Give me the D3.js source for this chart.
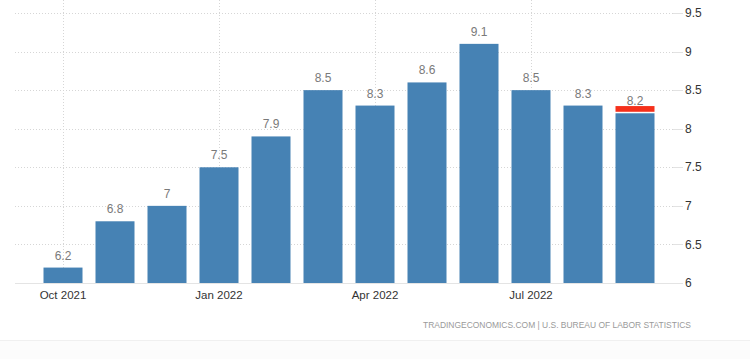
<!DOCTYPE html>
<html><head><meta charset="utf-8">
<script src="https://cdn.jsdelivr.net/npm/d3@7"></script>
<style>
html,body{margin:0;padding:0;background:#fff;}
svg{display:block;font-family:"Liberation Sans",Arial,sans-serif;}
</style></head>
<body><svg id="c" width="750" height="359"></svg>
<script>
const months = ["Oct 2021","Nov 2021","Dec 2021","Jan 2022","Feb 2022","Mar 2022","Apr 2022","May 2022","Jun 2022","Jul 2022","Aug 2022","Sep 2022"];
const values = [6.2,6.8,7,7.5,7.9,8.5,8.3,8.6,9.1,8.5,8.3,8.2];
const forecastValue = 8.3;   // consensus marker on the last bar
const xTickLabels = ["Oct 2021","Jan 2022","Apr 2022","Jul 2022"];
const yTicks = [6,6.5,7,7.5,8,8.5,9,9.5];
const footer = "TRADINGECONOMICS.COM | U.S. BUREAU OF LABOR STATISTICS";

const svg = d3.select("#c");
const x = d3.scaleBand().domain(months).range([37,661]).paddingInner(0.25).paddingOuter(0.125);
const y = d3.scaleLinear().domain([6,9.5]).range([283,13]);
const gridL = 15, gridR = 683;

// horizontal grid
const g = svg.append("g");
yTicks.forEach(t=>{
  if (t>6) {
    g.append("line").attr("x1",gridL).attr("x2",gridR-10).attr("y1",Math.round(y(t))+0.5).attr("y2",Math.round(y(t))+0.5)
      .attr("stroke","#d6d6d6").attr("stroke-dasharray","1,2");
  }
  g.append("line").attr("x1",gridR-10).attr("x2",gridR).attr("y1",Math.round(y(t))+0.5).attr("y2",Math.round(y(t))+0.5)
    .attr("stroke","#e2e2e2");
});
// vertical grid at labelled months
xTickLabels.forEach(m=>{
  const cx = Math.round(x(m)+x.bandwidth()/2)+0.5;
  g.append("line").attr("x1",cx).attr("x2",cx).attr("y1",0).attr("y2",283)
    .attr("stroke","#d6d6d6").attr("stroke-dasharray","1,2");
});
// baseline
svg.append("line").attr("x1",gridL).attr("x2",gridR).attr("y1",283.5).attr("y2",283.5).attr("stroke","#e4e4e4");

// bars
svg.append("g").selectAll("rect").data(values).join("rect")
  .attr("x",(d,i)=>x(months[i])).attr("width",x.bandwidth())
  .attr("y",d=>y(d)).attr("height",d=>y(6)-y(d))
  .attr("fill","#4682b4");

// forecast marker on last bar
const lastM = months[months.length-1];
svg.append("rect").attr("x",x(lastM)).attr("width",x.bandwidth())
  .attr("y",y(forecastValue)+0.5).attr("height",y(values[values.length-1])-y(forecastValue)-2)
  .attr("fill","#f5301b");

// value labels
svg.append("g").selectAll("text").data(values).join("text")
  .attr("x",(d,i)=>x(months[i])+x.bandwidth()/2).attr("y",d=>y(d)-8)
  .attr("text-anchor","middle").attr("font-size",12).attr("fill","#7a7a7a")
  .text(d=>d);

// y axis labels
svg.append("g").selectAll("text").data(yTicks).join("text")
  .attr("x",685).attr("y",d=>y(d)).attr("dy","0.35em")
  .attr("font-size",12).attr("fill","#333")
  .text(d=>d);

// x axis labels
svg.append("g").selectAll("text").data(xTickLabels).join("text")
  .attr("x",d=>x(d)+x.bandwidth()/2).attr("y",299)
  .attr("text-anchor","middle").attr("font-size",11.5).attr("fill","#333")
  .text(d=>d);

// footer
svg.append("text").attr("x",423).attr("y",328).attr("font-size",9).attr("fill","#9a9a9a")
  .attr("textLength",268).attr("lengthAdjust","spacingAndGlyphs").text(footer);
svg.append("rect").attr("x",0).attr("y",340).attr("width",750).attr("height",19).attr("fill","#fcfcfc");
svg.append("line").attr("x1",0).attr("x2",750).attr("y1",340.5).attr("y2",340.5).attr("stroke","#f0f0f0");
</script></body></html>
